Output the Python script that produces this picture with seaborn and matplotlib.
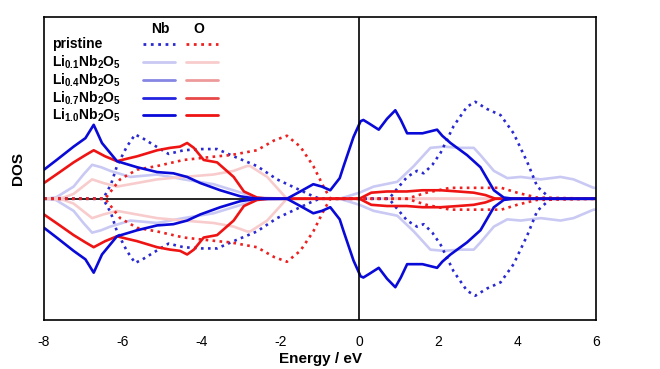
import matplotlib
matplotlib.use("Agg")
import matplotlib.pyplot as plt
import seaborn as sns
from matplotlib.lines import Line2D

sns.set_style("white")
plt.rcParams['font.family'] = ['Liberation Sans', 'DejaVu Sans']
plt.rcParams['mathtext.fontset'] = 'custom'
plt.rcParams['mathtext.rm'] = 'Liberation Sans:bold'
plt.rcParams['mathtext.bf'] = 'Liberation Sans:bold'
plt.rcParams['axes.unicode_minus'] = False
plt.rcParams['text.color'] = 'black'
plt.rcParams['axes.labelcolor'] = 'black'
plt.rcParams['xtick.color'] = 'black'

# spin-up DOS (spin-down is the mirror image)
e_nb_pri = [-8, -6.5, -6.3, -6.15, -5.9, -5.69, -5.5, -5.3, -5.05, -4.84, -4.46, -4.0, -3.61, -3.19,
            -2.6, -2.09, -1.5, -1.17, -1.0, 0.75, 0.95, 1.21, 1.46, 1.63, 1.85, 2.06, 2.39, 2.73,
            2.94, 3.24, 3.58, 3.91, 4.26, 4.51, 4.85, 6]
nb_pri = [0, 0, 0.12, 0.27, 0.43, 0.53, 0.50, 0.46, 0.41, 0.37, 0.40, 0.41, 0.41, 0.35,
          0.27, 0.16, 0.07, 0.02, 0.0, 0, 0.08, 0.18, 0.23, 0.21, 0.28, 0.38, 0.60, 0.76,
          0.80, 0.74, 0.69, 0.54, 0.30, 0.10, 0.0, 0]

e_o_pri = [-8, -6.45, -6.07, -5.64, -5.13, -4.46, -3.61, -3.27, -2.6, -2.17, -1.84, -1.5, -1.17,
           -0.91, -0.74, 1.2, 1.7, 2.3, 3.0, 3.6, 4.0, 4.5, 6]
o_pri = [0, 0, 0.16, 0.24, 0.27, 0.32, 0.35, 0.36, 0.40, 0.48, 0.52, 0.43, 0.27,
         0.10, 0.0, 0.0, 0.05, 0.09, 0.09, 0.09, 0.05, 0.01, 0]

e_nb_li01 = [-8, -7.7, -7.25, -7.0, -6.78, -6.55, -6.32, -5.81, -5.13, -4.46, -3.7, -3.0, -2.6,
             -1.84, -0.5, 0, 0.36, 0.96, 1.38, 1.8, 2.14, 2.56, 2.9, 3.07, 3.41, 3.75, 4.09,
             4.6, 5.1, 5.43, 5.94, 6]
nb_li01 = [0, 0.01, 0.10, 0.20, 0.28, 0.26, 0.23, 0.18, 0.20, 0.16, 0.12, 0.05, 0.01,
           0.0, 0.0, 0.05, 0.10, 0.14, 0.27, 0.42, 0.43, 0.42, 0.42, 0.36, 0.23, 0.17, 0.18,
           0.16, 0.18, 0.16, 0.09, 0.09]

e_o_li01 = [-8, -7.5, -7.25, -6.78, -6.5, -6.15, -5.64, -5.13, -4.46, -3.7, -3.19, -2.85,
            -2.77, -2.34, -1.84, 6]
o_li01 = [0, 0.01, 0.04, 0.16, 0.13, 0.10, 0.13, 0.16, 0.18, 0.20, 0.23, 0.27,
          0.27, 0.18, 0.0, 0.0]

e_nb_li10 = [-8, -7.68, -7.25, -6.95, -6.74, -6.53, -6.15, -5.64, -5.13, -4.72, -4.37, -4.04,
             -3.53, -3.02, -2.6, -1.84, -1.5, -1.17, -0.95, -0.74, -0.5, -0.4, -0.15, 0.03,
             0.1, 0.25, 0.49, 0.7, 0.91, 1.05, 1.21, 1.6, 1.97, 2.1, 2.31, 2.73, 3.07, 3.41,
             3.66, 3.9, 6]
nb_li10 = [0.24, 0.32, 0.43, 0.50, 0.61, 0.46, 0.31, 0.26, 0.22, 0.21, 0.18, 0.13,
           0.07, 0.02, 0.0, 0.0, 0.06, 0.12, 0.10, 0.07, 0.17, 0.27, 0.51, 0.64,
           0.65, 0.62, 0.57, 0.66, 0.73, 0.65, 0.54, 0.54, 0.57, 0.52, 0.46, 0.36, 0.26, 0.07,
           0.01, 0.0, 0.0]

e_o_li10 = [-8, -7.6, -7.25, -6.95, -6.74, -6.45, -6.15, -5.9, -5.64, -5.13, -4.8, -4.55, -4.37,
            -4.2, -3.95, -3.61, -3.19, -2.93, -2.6, -2.3, 0, 0.3, 0.7, 1.2, 1.6, 2.06, 2.5, 2.9,
            3.2, 3.45, 6]
o_li10 = [0.13, 0.22, 0.30, 0.36, 0.40, 0.35, 0.31, 0.33, 0.35, 0.40, 0.42, 0.43, 0.46,
          0.42, 0.32, 0.30, 0.18, 0.06, 0.01, 0.0, 0.0, 0.05, 0.06, 0.06, 0.07, 0.07, 0.06, 0.05,
          0.03, 0.0, 0.0]

legend_rows = ["pristine", r"Li$_{0.1}$Nb$_{2}$O$_{5}$", r"Li$_{0.4}$Nb$_{2}$O$_{5}$",
               r"Li$_{0.7}$Nb$_{2}$O$_{5}$", r"Li$_{1.0}$Nb$_{2}$O$_{5}$"]
nb_colors = ["#2a2ad0", "#c9c9f4", "#8686e4", "#2424e0", "#0a0ad8"]
o_colors = ["#ee2020", "#f8cccc", "#ee9a9a", "#e84848", "#ee1414"]
styles = [":", "-", "-", "-", "-"]

fig, ax = plt.subplots(figsize=(6.6, 3.69), dpi=100)
fig.subplots_adjust(left=0.0667, right=0.903, top=0.954, bottom=0.133)

series = [
    (e_nb_li01, nb_li01, nb_colors[1], "-"),
    (e_o_li01, o_li01, o_colors[1], "-"),
    (e_nb_pri, nb_pri, nb_colors[0], ":"),
    (e_o_pri, o_pri, o_colors[0], ":"),
    (e_o_li10, o_li10, o_colors[4], "-"),
    (e_nb_li10, nb_li10, nb_colors[4], "-"),
]
for e, d, c, ls in series:
    for sign in (1, -1):
        sns.lineplot(x=e, y=[sign * v for v in d], ax=ax, color=c, linestyle=ls,
                     lw=1.9, estimator=None, sort=False)

ax.axhline(0, color="black", lw=1.2, zorder=1)
ax.axvline(0, color="black", lw=1.2)

ax.set_xlim(-8, 6)
ax.set_ylim(-1.0, 1.5)
ax.set_xticks(range(-8, 7, 2))
ax.set_yticks([])
ax.tick_params(axis="x", length=0, pad=11, labelsize=10)
for s in ax.spines.values():
    s.set_color("black")
    s.set_linewidth(1.2)
ax.set_xlabel("Energy / eV", fontsize=11, fontweight="bold", labelpad=2)
ax.set_ylabel("DOS", fontsize=11, fontweight="bold", labelpad=14)

# hand-made legend: rows of labels with Nb and O sample lines
tr = ax.transAxes
ax.text(0.210, 0.960, "Nb", transform=tr, ha="center", va="center", fontsize=10, fontweight="bold")
ax.text(0.281, 0.960, "O", transform=tr, ha="center", va="center", fontsize=10, fontweight="bold")
row_y = [0.911, 0.851, 0.792, 0.733, 0.677]
for lab, yy, cn, co, ls in zip(legend_rows, row_y, nb_colors, o_colors, styles):
    ax.text(0.0145, yy, lab, transform=tr, ha="left", va="center", fontsize=10, fontweight="bold")
    ax.add_line(Line2D([0.179, 0.237], [yy, yy], transform=tr, color=cn, ls=ls, lw=2))
    ax.add_line(Line2D([0.257, 0.315], [yy, yy], transform=tr, color=co, ls=ls, lw=2))

plt.savefig("out.png", dpi=100)
